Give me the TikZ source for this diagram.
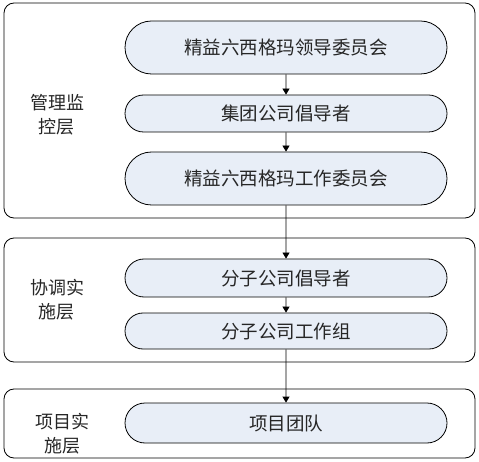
\documentclass[tikz,border=0pt]{standalone}
\usepackage{fontspec}
\setmainfont{Noto Sans CJK SC}
\usetikzlibrary{shapes.misc,arrows.meta}
\definecolor{stepfill}{RGB}{232,238,247}
\tikzset{
  layerbox/.style={draw=black, line width=0.8pt, rounded corners=10pt},
  stepbox/.style={draw=black, line width=0.8pt, fill=stepfill, rounded rectangle,
    minimum width=322pt, inner sep=0pt, font=\fontsize{18.5}{20}\selectfont, text=black!85},
  layerlabel/.style={align=center, font=\fontsize{18}{24}\selectfont, text=black!85},
  flow/.style={-{Triangle[length=6pt,width=7pt]}, line width=0.8pt}
}
\begin{document}
\begin{tikzpicture}[x=1pt,y=-1pt]
    \useasboundingbox (0,0) rectangle (479,462);

    % the three layers
    \draw [layerbox] (4,3) rectangle (475,218);
    \draw [layerbox] (4,238) rectangle (475,362);
    \draw [layerbox] (4,389) rectangle (475,458);

    \node [layerlabel] (manage) at (57,115) {管理监\\控层};
    \node [layerlabel] (coord) at (57,300) {协调实\\施层};
    \node [layerlabel] (project) at (62,434) {项目实\\施层};

    % management layer
    \node [stepbox, minimum height=53pt] (lead) at (286,47.5) {精益六西格玛领导委员会};
    \node [stepbox, minimum height=37pt] (group) at (286,113.5) {集团公司倡导者};
    \node [stepbox, minimum height=53pt] (work) at (286,178.5) {精益六西格玛工作委员会};

    % coordination layer
    \node [stepbox, minimum height=38pt] (subch) at (286,278) {分子公司倡导者};
    \node [stepbox, minimum height=36pt] (subwork) at (286,331) {分子公司工作组};

    % project layer
    \node [stepbox, minimum height=40pt] (team) at (286,423) {项目团队};

    \draw [flow] (lead) -- (group);
    \draw [flow] (group) -- (work);
    \draw [flow] (work) -- (subch);
    \draw [flow] (subch) -- (subwork);
    \draw [flow] (subwork) -- (team);
\end{tikzpicture}
\end{document}
